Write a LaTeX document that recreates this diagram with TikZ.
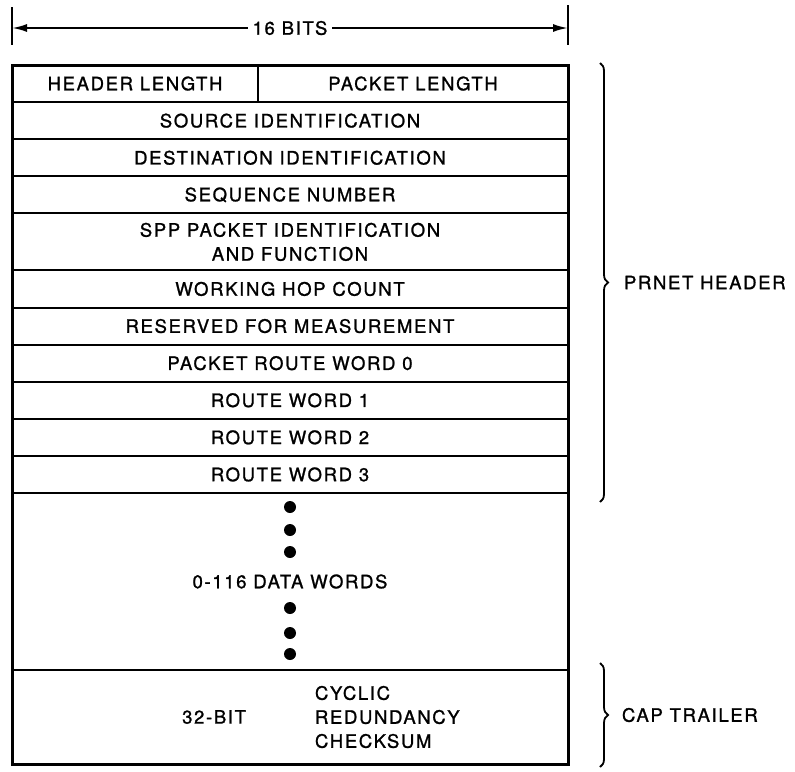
\documentclass[tikz,border=0pt]{standalone}
\usepackage{fontspec}
\setmainfont[LetterSpace=9,FakeBold=1.2]{TeX Gyre Heros}
\usepackage{tikz}
\usetikzlibrary{arrows.meta,positioning,decorations.pathreplacing}

\begin{document}
\begin{tikzpicture}[
x=1pt,y=-1pt,
node distance=0pt,
font=\fontsize{18.5}{24}\selectfont,
row/.style={rectangle,draw=black,line width=2pt,inner sep=0pt,outer sep=0pt,minimum width=556pt,minimum height=37.1pt,align=center},
half/.style={row,minimum width=#1},
frame/.style={draw=black,line width=3pt},
lbl/.style={inner sep=0pt,outer sep=0pt},
dim/.style={{Latex[length=15pt,width=8pt]}-{Latex[length=15pt,width=8pt]},line width=2pt},
tick/.style={line width=2pt},
brc/.style={decorate,decoration={brace,amplitude=8pt},line width=1.8pt}
]
\useasboundingbox (0,0) rectangle (795,771);
\node[half=246pt,anchor=north west] (hl) at (12,65) {HEADER LENGTH};
\node[half=310pt,right=of hl] (pl) {PACKET LENGTH};
\node[row,anchor=north west] (src) at (hl.south west) {SOURCE IDENTIFICATION};
\node[row,below=of src] (dst) {DESTINATION IDENTIFICATION};
\node[row,below=of dst] (seq) {SEQUENCE NUMBER};
\node[row,below=of seq,minimum height=57pt] (spp) {SPP PACKET IDENTIFICATION\\AND FUNCTION};
\node[row,below=of spp] (hop) {WORKING HOP COUNT};
\node[row,below=of hop] (meas) {RESERVED FOR MEASUREMENT};
\node[row,below=of meas] (rw0) {PACKET ROUTE WORD 0};
\node[row,below=of rw0] (rw1) {ROUTE WORD 1};
\node[row,below=of rw1] (rw2) {ROUTE WORD 2};
\node[row,below=of rw2] (rw3) {ROUTE WORD 3};
\node[row,below=of rw3,minimum height=177pt] (data) {0-116 DATA WORDS};
\node[row,below=of data,minimum height=94pt] (crc) {};
\node[lbl,anchor=east] (bits32) at ([xshift=-44pt]crc.center) {32-BIT};
\node[lbl,anchor=west,align=left] (crctxt) at ([xshift=25pt]crc.center) {CYCLIC\\REDUNDANCY\\CHECKSUM};
\foreach \dy in {74.5,51.5,29.5,-26.5,-51.5,-72.5}
  \fill ([yshift=\dy pt]data.center) circle (6pt);
\draw[frame] (hl.north west) rectangle (crc.south east);
\coordinate[above=37pt of hl.north west] (dl);
\coordinate[above=37pt of pl.north east] (dr);
\draw[tick] ([yshift=21pt]dl) -- ([yshift=-17pt]dl);
\draw[tick] ([yshift=23pt]dr) -- ([yshift=-17pt]dr);
\draw[dim] (dl) -- (dr) node[midway,fill=white,inner sep=5pt] (bits) {16 BITS};
\draw[brc] ([xshift=32pt,yshift=2pt]pl.north east) -- ([xshift=32pt,yshift=-9pt]rw3.south east) node[midway,right=24pt,lbl] (prnet) {PRNET HEADER};
\draw[brc] ([xshift=32pt,yshift=7pt]crc.north east) -- ([xshift=32pt,yshift=-3pt]crc.south east) node[midway,right=22pt,lbl] (cap) {CAP TRAILER};
\end{tikzpicture}
\end{document}
